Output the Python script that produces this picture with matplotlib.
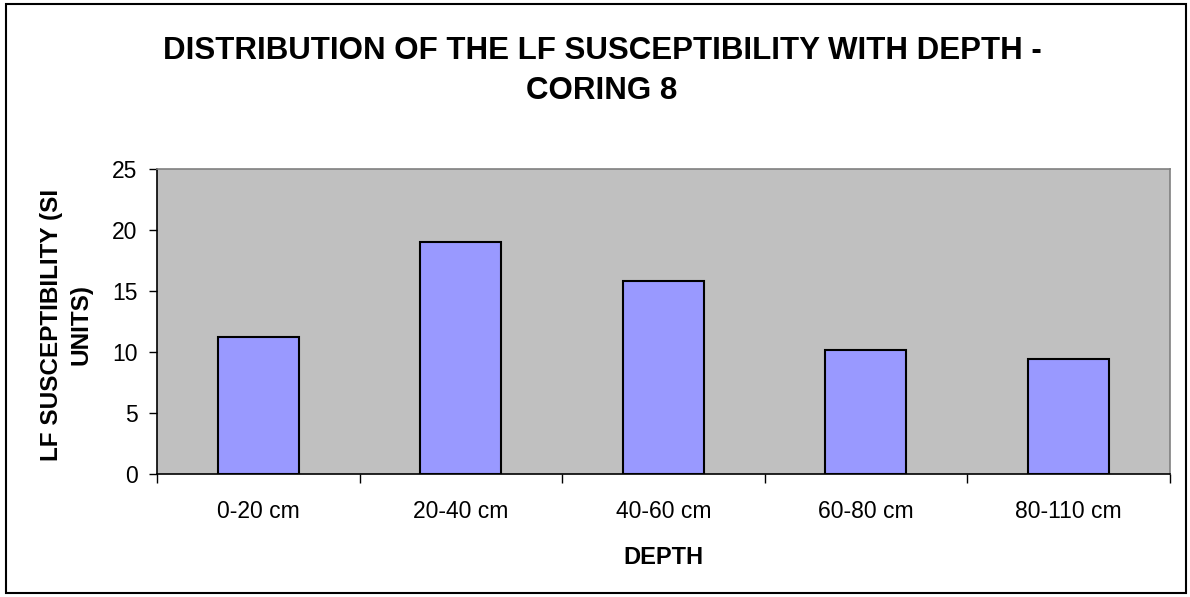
import numpy as np
import matplotlib.pyplot as plt
from matplotlib.patches import Rectangle

# LF susceptibility per depth interval, coring 8
depths = ["0-20 cm", "20-40 cm", "40-60 cm", "60-80 cm", "80-110 cm"]
susceptibility = [11.2, 19.0, 15.8, 10.2, 9.4]

plt.rcParams["font.family"] = ["Liberation Sans", "DejaVu Sans"]

fig = plt.figure(figsize=(11.9, 5.97), dpi=100)
ax = fig.add_axes([0.132, 0.206, 0.851, 0.511])

x = np.arange(len(depths))
ax.bar(x, susceptibility, width=0.4, color="#9999FF", edgecolor="black", linewidth=1.5, zorder=3)

ax.set_facecolor("#C0C0C0")
ax.set_xlim(-0.5, len(depths) - 0.5)
ax.set_ylim(0, 25)
ax.set_yticks(range(0, 26, 5))
ax.set_xticks(x)
ax.set_xticklabels(depths)
ax.set_xticks(np.arange(-0.5, len(depths), 1.0), minor=True)
ax.tick_params(axis="x", which="major", length=0, pad=19, labelsize=16.5)
ax.tick_params(axis="x", which="minor", length=6.5, width=1, direction="out")
ax.tick_params(axis="y", length=6, width=1, labelsize=16.5, pad=8)

for side in ["top", "right"]:
    ax.spines[side].set_color("#808080")
    ax.spines[side].set_linewidth(1.2)
for side in ["left", "bottom"]:
    ax.spines[side].set_color("black")
    ax.spines[side].set_linewidth(1.2)

ax.set_xlabel("DEPTH", fontsize=17, fontweight="bold")
ax.xaxis.set_label_coords(0.5, -0.236)
ax.set_ylabel("LF SUSCEPTIBILITY (SI\nUNITS)", fontsize=17.5, fontweight="bold", linespacing=1.33)
ax.yaxis.set_label_coords(-0.064, 0.49)

fig.text(0.506, 0.9012, "DISTRIBUTION OF THE LF SUSCEPTIBILITY WITH DEPTH -",
         ha="center", va="baseline", fontsize=22.5, fontweight="bold")
fig.text(0.506, 0.8342, "CORING 8", ha="center", va="baseline", fontsize=22.5, fontweight="bold")

# frame around the whole chart
fig.patches.append(Rectangle((0.005, 0.006), 0.992, 0.988, transform=fig.transFigure,
                             fill=False, edgecolor="black", linewidth=1.5))

fig.savefig("out.png", dpi=100, facecolor="white")
